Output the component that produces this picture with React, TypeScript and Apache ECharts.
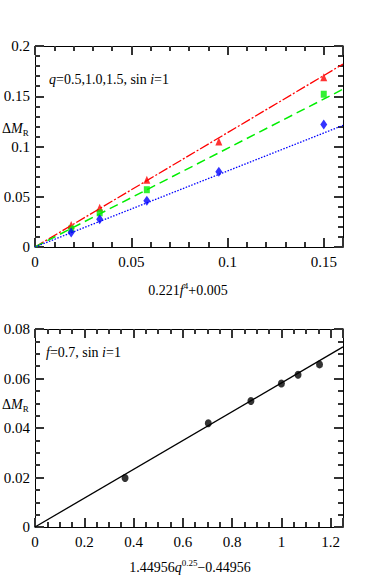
import React, { useEffect, useRef } from "react";
import * as echarts from "echarts";

// ---- Top panel data: x = 0.221 f^4 + 0.005 ----
const topX = [0.0188, 0.0336, 0.0581, 0.0955, 0.15];
const redY = [0.022, 0.039, 0.067, 0.105, 0.169];
const greenX = [0.0188, 0.0336, 0.0581, 0.15];
const greenY = [0.018, 0.034, 0.057, 0.152];
const blueY = [0.0145, 0.0275, 0.046, 0.075, 0.122];
const redFit = [[0, 0], [0.16, 0.182]];
const greenFit = [[0, 0], [0.16, 0.157]];
const blueFit = [[0, 0], [0.16, 0.121]];

// ---- Bottom panel data: x = 1.44956 q^0.25 - 0.44956 ----
const botX = [0.3655, 0.7033, 0.8763, 1.0, 1.0676, 1.1547];
const botY = [0.0198, 0.0419, 0.0509, 0.058, 0.0615, 0.0657];
const botFit = [[0, 0], [1.25, 0.0728]];

const FONT = "'Liberation Serif', 'Times New Roman', serif";
const FS = 15;
const TS = 14;
const TICK = "#333333";

const pair = (xs: number[], ys: number[]) => xs.map((x, i) => [x, ys[i]]);

function fmt(interval: number) {
  return (v: number) => {
    const r = v / interval;
    if (Math.abs(r - Math.round(r)) > 1e-6) return "";
    return String(parseFloat(v.toFixed(4)));
  };
}

function axisSet(
  dim: "x" | "y",
  gridIndex: number,
  min: number,
  max: number,
  interval: number,
  major: boolean
) {
  const positions = dim === "x" ? ["bottom", "top"] : ["left", "right"];
  return positions.map((position, k) => ({
    type: "value",
    gridIndex,
    position,
    min,
    max,
    interval,
    axisLine: { show: major, onZero: false, lineStyle: { color: "#000", width: 1 } },
    axisTick: {
      show: true,
      inside: true,
      length: major ? 9 : 5,
      lineStyle: { color: TICK, width: 2 },
    },
    splitLine: { show: false },
    axisLabel: {
      show: major && k === 0,
      color: "#000",
      fontFamily: FONT,
      fontSize: FS,
      margin: dim === "x" ? 7 : 5,
      formatter: fmt(interval),
    },
  }));
}

export default function App() {
  const ref = useRef<HTMLDivElement>(null);
  useEffect(() => {
    if (!ref.current) return;
    const chart = echarts.init(ref.current, undefined, { renderer: "svg" });
    const topRect = { left: 35, top: 46, width: 308, height: 201 };
    const botRect = { left: 35, top: 329, width: 308, height: 198 };
    const it = { fontStyle: "italic", fontSize: TS, fontFamily: FONT, lineHeight: 19 };
    const nm = { fontSize: TS, fontFamily: FONT, lineHeight: 19 };
    const sub = { fontSize: 9, fontFamily: FONT, lineHeight: 9, verticalAlign: "bottom" };
    const sup = { fontSize: 9, fontFamily: FONT, lineHeight: 9, verticalAlign: "top" };

    chart.setOption({
      animation: false,
      grid: [
        { ...topRect, show: false },
        { ...topRect, show: false },
        { ...botRect, show: false },
        { ...botRect, show: false },
      ],
      xAxis: [
        ...axisSet("x", 0, 0, 0.16, 0.05, true),
        ...axisSet("x", 1, 0, 0.16, 0.01, false),
        ...axisSet("x", 2, 0, 1.25, 0.2, true),
        ...axisSet("x", 3, 0, 1.25, 0.05, false),
      ],
      yAxis: [
        ...axisSet("y", 0, 0, 0.2, 0.05, true),
        ...axisSet("y", 1, 0, 0.2, 0.01, false),
        ...axisSet("y", 2, 0, 0.08, 0.02, true),
        ...axisSet("y", 3, 0, 0.08, 0.005, false),
      ],
      series: [
        {
          type: "line", xAxisIndex: 0, yAxisIndex: 0, data: redFit, showSymbol: false,
          lineStyle: { color: "#ff0000", width: 1.3, type: [10, 2, 2, 2] },
        },
        {
          type: "line", xAxisIndex: 0, yAxisIndex: 0, data: greenFit, showSymbol: false,
          lineStyle: { color: "#00ee00", width: 1.5, type: [9, 5] },
        },
        {
          type: "line", xAxisIndex: 0, yAxisIndex: 0, data: blueFit, showSymbol: false,
          lineStyle: { color: "#0000ff", width: 1.3, type: [1.5, 1.5] },
        },
        {
          type: "scatter", xAxisIndex: 0, yAxisIndex: 0, data: pair(topX, redY),
          symbol: "triangle", symbolSize: [7, 8], itemStyle: { color: "#ff0000" },
        },
        {
          type: "scatter", xAxisIndex: 0, yAxisIndex: 0, data: pair(greenX, greenY),
          symbol: "rect", symbolSize: [6, 7], itemStyle: { color: "#00ee00" },
        },
        {
          type: "scatter", xAxisIndex: 0, yAxisIndex: 0, data: pair(topX, blueY),
          symbol: "diamond", symbolSize: [7, 10], itemStyle: { color: "#0000ff" },
        },
        {
          type: "line", xAxisIndex: 4, yAxisIndex: 4, data: botFit, showSymbol: false,
          lineStyle: { color: "#000", width: 1.3 },
        },
        {
          type: "scatter", xAxisIndex: 4, yAxisIndex: 4, data: pair(botX, botY),
          symbol: "circle", symbolSize: [7, 8], itemStyle: { color: "#000" },
        },
      ],
      graphic: [
        {
          type: "text", left: 49, top: 72,
          style: {
            text: "{i|q}{n|=0.5,1.0,1.5, sin }{i|i}{n|=1}",
            rich: { i: it, n: nm }, fill: "#000",
          },
        },
        {
          type: "text", left: 46, top: 345,
          style: {
            text: "{i|f}{n|=0.7, sin }{i|i}{n|=1}",
            rich: { i: it, n: nm }, fill: "#000",
          },
        },
        {
          type: "text", left: 2, top: 121,
          style: {
            text: "{n|Δ}{i|M}{s|R}",
            rich: { i: it, n: nm, s: sub }, fill: "#000",
          },
        },
        {
          type: "text", left: 2, top: 397,
          style: {
            text: "{n|Δ}{i|M}{s|R}",
            rich: { i: it, n: nm, s: sub }, fill: "#000",
          },
        },
        {
          type: "text", x: 188, y: 281,
          style: {
            text: "{n|0.221}{i|f}{p|4}{n|+0.005}",
            rich: { i: it, n: nm, p: sup }, fill: "#000", textAlign: "center",
          },
        },
        {
          type: "text", x: 190, y: 558,
          style: {
            text: "{n|1.44956}{i|q}{p|0.25}{n|−0.44956}",
            rich: { i: it, n: nm, p: sup }, fill: "#000", textAlign: "center",
          },
        },
      ],
    });
    return () => chart.dispose();
  }, []);
  return (
    <div
      ref={ref}
      style={{ position: "fixed", left: 0, top: 0, width: 374, height: 581, background: "#fff" }}
    />
  );
}
